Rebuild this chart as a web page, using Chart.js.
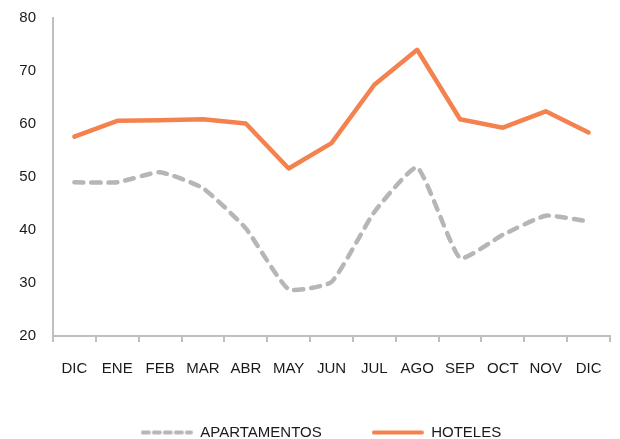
<!DOCTYPE html>
<html>
<head>
<meta charset="utf-8">
<script src="https://cdn.jsdelivr.net/npm/chart.js@4.4.1/dist/chart.umd.min.js"></script>
<style>
  html, body { margin: 0; padding: 0; background: #fff; }
  #wrap { width: 620px; height: 439px; position: relative; }
</style>
</head>
<body>
<div id="wrap"><canvas id="chart"></canvas></div>
<script>
// Month labels (December to December)
const months = ['DIC', 'ENE', 'FEB', 'MAR', 'ABR', 'MAY', 'JUN', 'JUL', 'AGO', 'SEP', 'OCT', 'NOV', 'DIC'];

// Values
const apartamentos = [49.0, 49.0, 50.9, 47.9, 40.3, 28.8, 30.2, 43.4, 51.8, 34.7, 39.1, 42.7, 41.6];
const hoteles = [57.6, 60.6, 60.7, 60.9, 60.1, 51.6, 56.4, 67.4, 74.0, 60.9, 59.3, 62.4, 58.4];

// Y axis range
const yMin = 20;
const yMax = 80;
const yStep = 10;

const FONT = "'Liberation Sans', Arial, sans-serif";
const TEXT_COLOR = '#1a1a1a';
const AXIS_COLOR = '#bfbfbf';
const GRAY = '#b6b6b9';
const ORANGE = '#f4824f';

// Small canvas used as the legend sample (Chart.js' 'line' point style
// closes its path, which hides the dash pattern).
function legendSample(color, dash) {
  const c = document.createElement('canvas');
  c.width = 52;
  c.height = 8;
  const g = c.getContext('2d');
  g.strokeStyle = color;
  g.lineWidth = 4;
  g.lineCap = 'round';
  g.setLineDash(dash);
  g.beginPath();
  g.moveTo(2, 4);
  g.lineTo(50, 4);
  g.stroke();
  return c;
}

// Nudge the legend to the right, as in the original layout
const legendShift = {
  id: 'legendShift',
  afterLayout(chart) {
    if (chart.legend) {
      chart.legend.left += 16;
      chart.legend.right += 16;
    }
  },
};

const ctx = document.getElementById('chart').getContext('2d');
new Chart(ctx, {
  type: 'line',
  data: {
    labels: months,
    datasets: [
      {
        label: 'APARTAMENTOS',
        data: apartamentos,
        borderColor: GRAY,
        backgroundColor: GRAY,
        borderWidth: 4.5,
        borderDash: [9, 8],
        borderCapStyle: 'round',
        borderJoinStyle: 'round',
        pointRadius: 0,
        pointStyle: legendSample(GRAY, [6, 5]),
        tension: 0.15,
        fill: false,
      },
      {
        label: 'HOTELES',
        data: hoteles,
        borderColor: ORANGE,
        backgroundColor: ORANGE,
        borderWidth: 4.5,
        borderCapStyle: 'round',
        borderJoinStyle: 'round',
        pointRadius: 0,
        pointStyle: legendSample(ORANGE, []),
        tension: 0,
        fill: false,
      },
    ],
  },
  plugins: [legendShift],
  options: {
    responsive: true,
    maintainAspectRatio: false,
    animation: false,
    layout: {
      padding: { left: 0, right: 10, top: 18, bottom: 0 },
    },
    plugins: {
      tooltip: { enabled: false },
      legend: {
        position: 'bottom',
        maxHeight: 64,
        labels: {
          usePointStyle: true,
          pointStyleWidth: 52,
          padding: 50,
          color: TEXT_COLOR,
          font: { family: FONT, size: 15 },
        },
      },
    },
    scales: {
      x: {
        offset: true,
        afterFit: (scale) => { scale.height = 39; },
        grid: {
          offset: true,
          drawOnChartArea: false,
          color: AXIS_COLOR,
          lineWidth: 2,
          tickLength: 6,
        },
        border: { color: AXIS_COLOR, width: 2 },
        ticks: {
          color: TEXT_COLOR,
          font: { family: FONT, size: 15 },
          padding: 18,
          maxRotation: 0,
          autoSkip: false,
        },
      },
      y: {
        min: yMin,
        max: yMax,
        afterFit: (scale) => { scale.width = 53; },
        // invisible tick marks keep the labels clear of the axis line
        grid: { drawOnChartArea: false, tickLength: 14, tickColor: 'rgba(0,0,0,0)' },
        border: { color: AXIS_COLOR, width: 2 },
        ticks: {
          stepSize: yStep,
          color: TEXT_COLOR,
          font: { family: FONT, size: 15 },
          padding: 3,
        },
      },
    },
  },
});
</script>
</body>
</html>
